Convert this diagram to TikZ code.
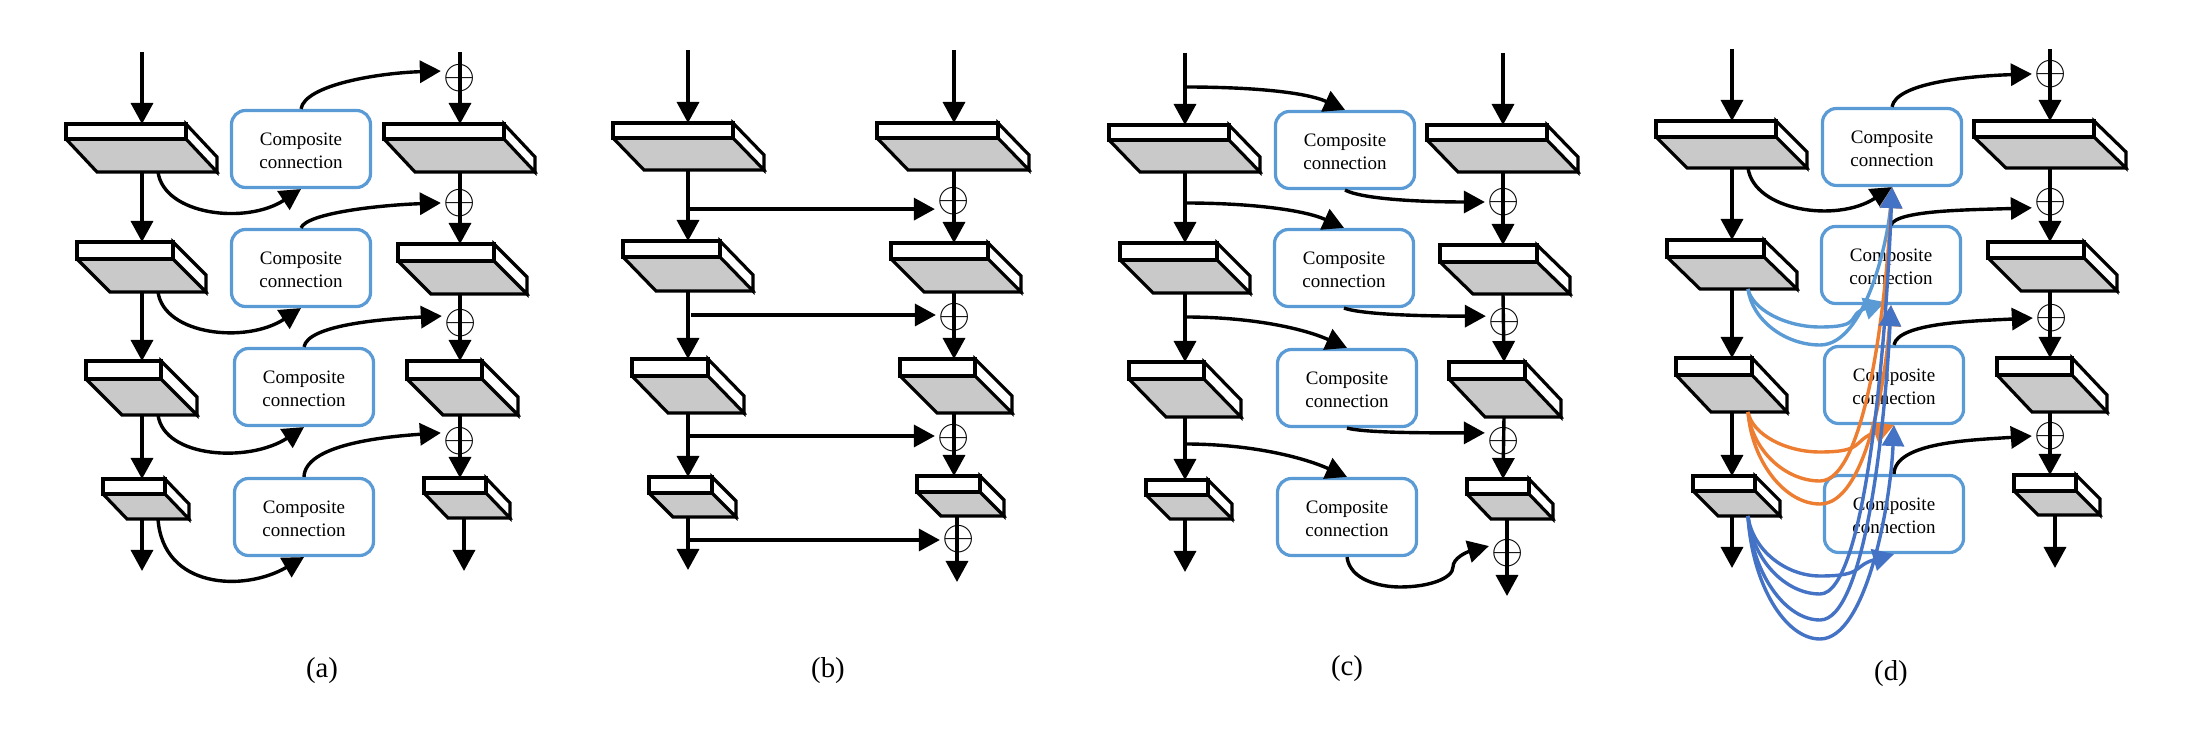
\documentclass[tikz,border=0pt]{standalone}
\usepackage{fontspec}
\setmainfont{Liberation Serif}
\usetikzlibrary{arrows.meta}
\definecolor{skipa}{HTML}{5B9BD5}
\definecolor{skipb}{HTML}{ED7D31}
\definecolor{skipc}{HTML}{4472C4}
\tikzset{
  conn/.style={-{Triangle[length=10.5pt,width=11pt]},line width=1.7pt},
  face/.style={draw=black,line width=1.6pt,line join=miter},
  compbox/.style={draw=skipa,line width=1.6pt,rounded corners=7pt,minimum width=69.5pt,minimum height=38.5pt,
    align=center,inner sep=0pt,font=\fontsize{9.5}{11.5}\selectfont},
  addnode/.style={inner sep=0pt,outer sep=1.5pt,font=\fontsize{20.74}{22}\selectfont},
  caption/.style={inner sep=0pt,font=\fontsize{14.4}{16}\selectfont}
}
\newcommand{\comptext}{\rule{0pt}{8.5pt}Composite\\connection}
% name, column x, left, right, top, middle, bottom, far right
\newcommand{\slab}[8]{%
  \draw[face,fill=black!21] (#3,#5) -- (#4,#5) -- (#8,#7) -- ({#3+#8-#4},#7) -- (#3,#6) -- cycle;
  \draw[face,fill=white] (#4,#5) -- (#8,{#5+#7-#6}) -- (#8,#7) -- (#4,#6) -- cycle;
  \draw[face,fill=white] (#3,#5) rectangle (#4,#6);
  \coordinate (#1t) at (#2,#5);
  \coordinate (#1b) at (#2,#7);
  \coordinate (#1s) at ({#2+16},#7);
}
% colour, source, first control, dip y, second control, target
\newcommand{\skipline}[6]{%
  \draw[conn,#1] (#2) .. controls +(#3) and +(-35,0) .. (1820,#4) .. controls +(45,0) and +(#5) .. (#6);
}
\begin{document}
\begin{tikzpicture}[x=0.5pt,y=-0.5pt]
\useasboundingbox (0,0) rectangle (2197,731);
% (a)
\slab{aL1}{142}{66}{186}{124}{139}{172}{217}
\slab{aL2}{142}{77}{173}{242}{259}{292}{206}
\slab{aL3}{142}{86}{161}{361}{379}{415}{197}
\slab{aL4}{142}{103}{165}{479}{494}{519}{189}
\slab{aR1}{460}{384}{504}{124}{139}{172}{535}
\slab{aR2}{460}{398}{494}{244}{261}{294}{527}
\slab{aR3}{460}{407}{482}{361}{379}{415}{518}
\slab{aR4}{460}{424}{486}{478}{493}{518}{510}
\node[compbox] (aC1) at (301,149) {\comptext};
\node[compbox] (aC2) at (301,268) {\comptext};
\node[compbox] (aC3) at (304,387) {\comptext};
\node[compbox] (aC4) at (304,517) {\comptext};
\node[addnode] (aO1) at (460,78) {$\oplus$};
\node[addnode] (aO2) at (460,203) {$\oplus$};
\node[addnode] (aO3) at (461,323) {$\oplus$};
\node[addnode] (aO4) at (460,441) {$\oplus$};
\coordinate (aLin) at (142,52);
\coordinate (aRin) at (460,52);
\coordinate (aLout) at (142,571);
\coordinate (aRout) at (464,571);
\draw[conn] (aLin) -- (aL1t);
\draw[conn] (aL1b) -- (aL2t);
\draw[conn] (aL2b) -- (aL3t);
\draw[conn] (aL3b) -- (aL4t);
\draw[conn] (aL4b) -- (aLout);
\draw[conn] (aRin) -- (aR1t);
\draw[conn] (aR1b) -- (aR2t);
\draw[conn] (aR2b) -- (aR3t);
\draw[conn] (aR3b) -- (aR4t);
\draw[conn] (aR4b -| aRout) -- (aRout);
\draw[conn] (aL1s) .. controls +(6,43) and +(-55,36) .. (aC1.south);
\draw[conn] (aL2s) .. controls +(6,43) and +(-55,36) .. (aC2.south);
\draw[conn] (aL3s) .. controls +(6,43) and +(-55,36) .. (aC3.south);
\draw[conn] (aL4s) .. controls +(5,70) and +(-60,35) .. (aC4.south);
\draw[conn] (aC1.north) .. controls +(4,-24) and +(-63,2) .. (aO1.160);
\draw[conn] (aC2.north) .. controls +(6,-15) and +(-60,2) .. (aO2.180);
\draw[conn] (aC3.north) .. controls +(4,-22) and +(-60,3) .. (aO3.160);
\draw[conn] (aC4.north) .. controls +(1,-32) and +(-59,4) .. (aO4.157);
\node[caption] (acap) at (322,671) {(a)};
% (b)
\slab{bL1}{688}{613}{733}{123}{138}{170}{764}
\slab{bL2}{688}{623}{720}{241}{257}{291}{753}
\slab{bL3}{688}{632}{708}{359}{376}{413}{744}
\slab{bL4}{688}{649}{712}{477}{493}{517}{736}
\slab{bR1}{954}{877}{998}{123}{138}{170}{1029}
\slab{bR2}{954}{891}{988}{243}{259}{292}{1021}
\slab{bR3}{954}{900}{975}{359}{376}{413}{1012}
\slab{bR4}{957}{917}{980}{476}{492}{516}{1004}
\node[addnode] (bO1) at (954,201) {$\oplus$};
\node[addnode] (bO2) at (955,317) {$\oplus$};
\node[addnode] (bO3) at (954,438) {$\oplus$};
\node[addnode] (bO4) at (959,539) {$\oplus$};
\coordinate (bLin) at (688,50);
\coordinate (bRin) at (954,50);
\coordinate (bLout) at (688,570);
\coordinate (bRout) at (957,582);
\draw[conn] (bLin) -- (bL1t);
\draw[conn] (bL1b) -- (bL2t);
\draw[conn] (bL2b) -- (bL3t);
\draw[conn] (bL3b) -- (bL4t);
\draw[conn] (bL4b) -- (bLout);
\draw[conn] (bRin) -- (bR1t);
\draw[conn] (bR1b) -- (bR2t);
\draw[conn] (bR2b) -- (bR3t);
\draw[conn] (bR3b) -- (bR4t -| bR3b);
\draw[conn] (bR4b) -- (bRout);
\draw[conn] (bO1.203 -| bL1b) -- (bO1.203);
\draw[conn,shorten <=1.5pt] (bO2.174 -| bL2b) -- (bO2.174);
\draw[conn] (bO3.174 -| bL3b) -- (bO3.174);
\draw[conn] (bO4.183 -| bL4b) -- (bO4.183);
\node[caption] (bcap) at (828,671) {(b)};
% (c)
\slab{cL1}{1185}{1109}{1229}{125}{140}{172}{1260}
\slab{cL2}{1185}{1120}{1217}{243}{260}{293}{1250}
\slab{cL3}{1185}{1129}{1204}{362}{379}{417}{1241}
\slab{cL4}{1185}{1146}{1208}{480}{495}{519}{1232}
\slab{cR1}{1503}{1427}{1547}{125}{140}{172}{1578}
\slab{cR2}{1503}{1440}{1537}{245}{262}{294}{1570}
\slab{cR3}{1504}{1449}{1525}{362}{379}{417}{1561}
\slab{cR4}{1503}{1467}{1529}{479}{494}{519}{1553}
\node[compbox] (cC1) at (1345,150) {\comptext};
\node[compbox] (cC2) at (1344,268) {\comptext};
\node[compbox] (cC3) at (1347,388) {\comptext};
\node[compbox] (cC4) at (1347,517) {\comptext};
\node[addnode] (cO1) at (1504,202) {$\oplus$};
\node[addnode] (cO2) at (1505,322) {$\oplus$};
\node[addnode] (cO3) at (1504,441) {$\oplus$};
\node[addnode] (cO4) at (1508,553) {$\oplus$};
\coordinate (cLin) at (1185,53);
\coordinate (cRin) at (1503,53);
\coordinate (cLout) at (1185,572);
\coordinate (cRout) at (1507,596);
\coordinate (cJ1) at (1185,87);
\coordinate (cJ2) at (1185,203);
\coordinate (cJ3) at (1185,317);
\coordinate (cJ4) at (1185,444);
\coordinate (cW1) at (1400,587);
\coordinate (cW2) at (1453,567);
\draw[conn] (cLin) -- (cL1t);
\draw[conn] (cL1b) -- (cL2t);
\draw[conn] (cL2b) -- (cL3t);
\draw[conn] (cL3b) -- (cL4t);
\draw[conn] (cL4b) -- (cLout);
\draw[conn] (cRin) -- (cR1t);
\draw[conn] (cR1b) -- (cR2t);
\draw[conn] (cR2b) -- (cR3t);
\draw[conn] (cR3b) -- (cR4t);
\draw[conn] (cR4b -| cRout) -- (cRout);
\draw[conn] (cJ1) .. controls +(65,0) and +(-40,-18) .. (cC1.north);
\draw[conn] (cJ2) .. controls +(65,0) and +(-40,-18) .. (cC2.north);
\draw[conn] (cJ3) .. controls +(65,0) and +(-45,-20) .. (cC3.north);
\draw[conn] (cJ4) .. controls +(65,0) and +(-45,-20) .. (cC4.north);
\draw[conn] (cC1.south) .. controls +(20,10) and +(-55,0) .. (cO1.180);
\draw[conn] (cC2.south) .. controls +(20,7) and +(-55,0) .. (cO2.163);
\draw[conn] (cC3.south) .. controls +(20,5) and +(-55,0) .. (cO3.157);
\draw[conn] (cC4.south) .. controls +(3,23) and +(-20,0) .. (cW1) .. controls +(30,0) and +(0,11) .. (cW2) .. controls +(0,-9) and +(-22,6) .. (cO4.160);
\node[caption] (ccap) at (1347,669) {(c)};
% (d)
\slab{dL1}{1732}{1656}{1776}{121}{137}{168}{1807}
\slab{dL2}{1732}{1667}{1764}{240}{257}{289}{1797}
\slab{dL3}{1732}{1676}{1752}{358}{375}{412}{1787}
\slab{dL4}{1732}{1693}{1755}{476}{491}{516}{1780}
\slab{dR1}{2050}{1974}{2094}{121}{137}{168}{2126}
\slab{dR2}{2050}{1988}{2084}{242}{258}{291}{2117}
\slab{dR3}{2050}{1997}{2072}{358}{375}{412}{2107}
\slab{dR4}{2050}{2014}{2076}{475}{491}{515}{2100}
\node[compbox] (dC1) at (1892,147) {\comptext};
\node[compbox] (dC2) at (1891,265) {\comptext};
\node[compbox] (dC3) at (1894,385) {\comptext};
\node[compbox] (dC4) at (1894,514) {\comptext};
\node[addnode] (dO1) at (2051,74) {$\oplus$};
\node[addnode] (dO2) at (2051,202) {$\oplus$};
\node[addnode] (dO3) at (2052,318) {$\oplus$};
\node[addnode] (dO4) at (2051,436) {$\oplus$};
\coordinate (dLin) at (1732,49);
\coordinate (dRin) at (2050,49);
\coordinate (dLout) at (1732,568);
\coordinate (dRout) at (2055,568);
\draw[conn] (dLin) -- (dL1t);
\draw[conn] (dL1b) -- (dL2t);
\draw[conn] (dL2b) -- (dL3t);
\draw[conn] (dL3b) -- (dL4t);
\draw[conn] (dL4b) -- (dLout);
\draw[conn] (dRin) -- (dR1t);
\draw[conn] (dR1b) -- (dR2t);
\draw[conn] (dR2b) -- (dR3t);
\draw[conn] (dR3b) -- (dR4t);
\draw[conn] (dR4b -| dRout) -- (dRout);
\draw[conn] (dL1s) .. controls +(6,43) and +(-55,36) .. (dC1.south);
\draw[conn] (dC1.north) .. controls +(4,-24) and +(-63,2) .. (dO1.180);
\draw[conn] (dC2.north) .. controls +(6,-15) and +(-60,2) .. (dO2.197);
\draw[conn] (dC3.north) .. controls +(4,-22) and +(-60,3) .. (dO3.180);
\draw[conn] (dC4.north) .. controls +(1,-32) and +(-59,4) .. (dO4.180);
\skipline{skipa}{dL2s}{4,20}{327}{-40,13}{[shift={(-3pt,1.5pt)}]dC2.south}
\skipline{skipa}{dL2s}{4,31}{345}{-4,53}{dC1.south}
\skipline{skipb}{dL3s}{4,22}{452}{-42,16}{dC3.south}
\skipline{skipb}{dL3s}{4,38}{481}{-6,120}{dC1.south}
\skipline{skipb}{dL3s}{4,50}{504}{-6,80}{dC2.south}
\skipline{skipc}{dL4s}{4,33}{576}{-42,12}{dC4.south}
\skipline{skipc}{dL4s}{4,43}{594}{-6,160}{dC1.south}
\skipline{skipc}{dL4s}{4,57}{620}{-6,120}{dC2.south}
\skipline{skipc}{dL4s}{4,68}{639}{-4,85}{dC3.south}
\node[caption] (dcap) at (1891,674) {(d)};
\end{tikzpicture}
\end{document}
